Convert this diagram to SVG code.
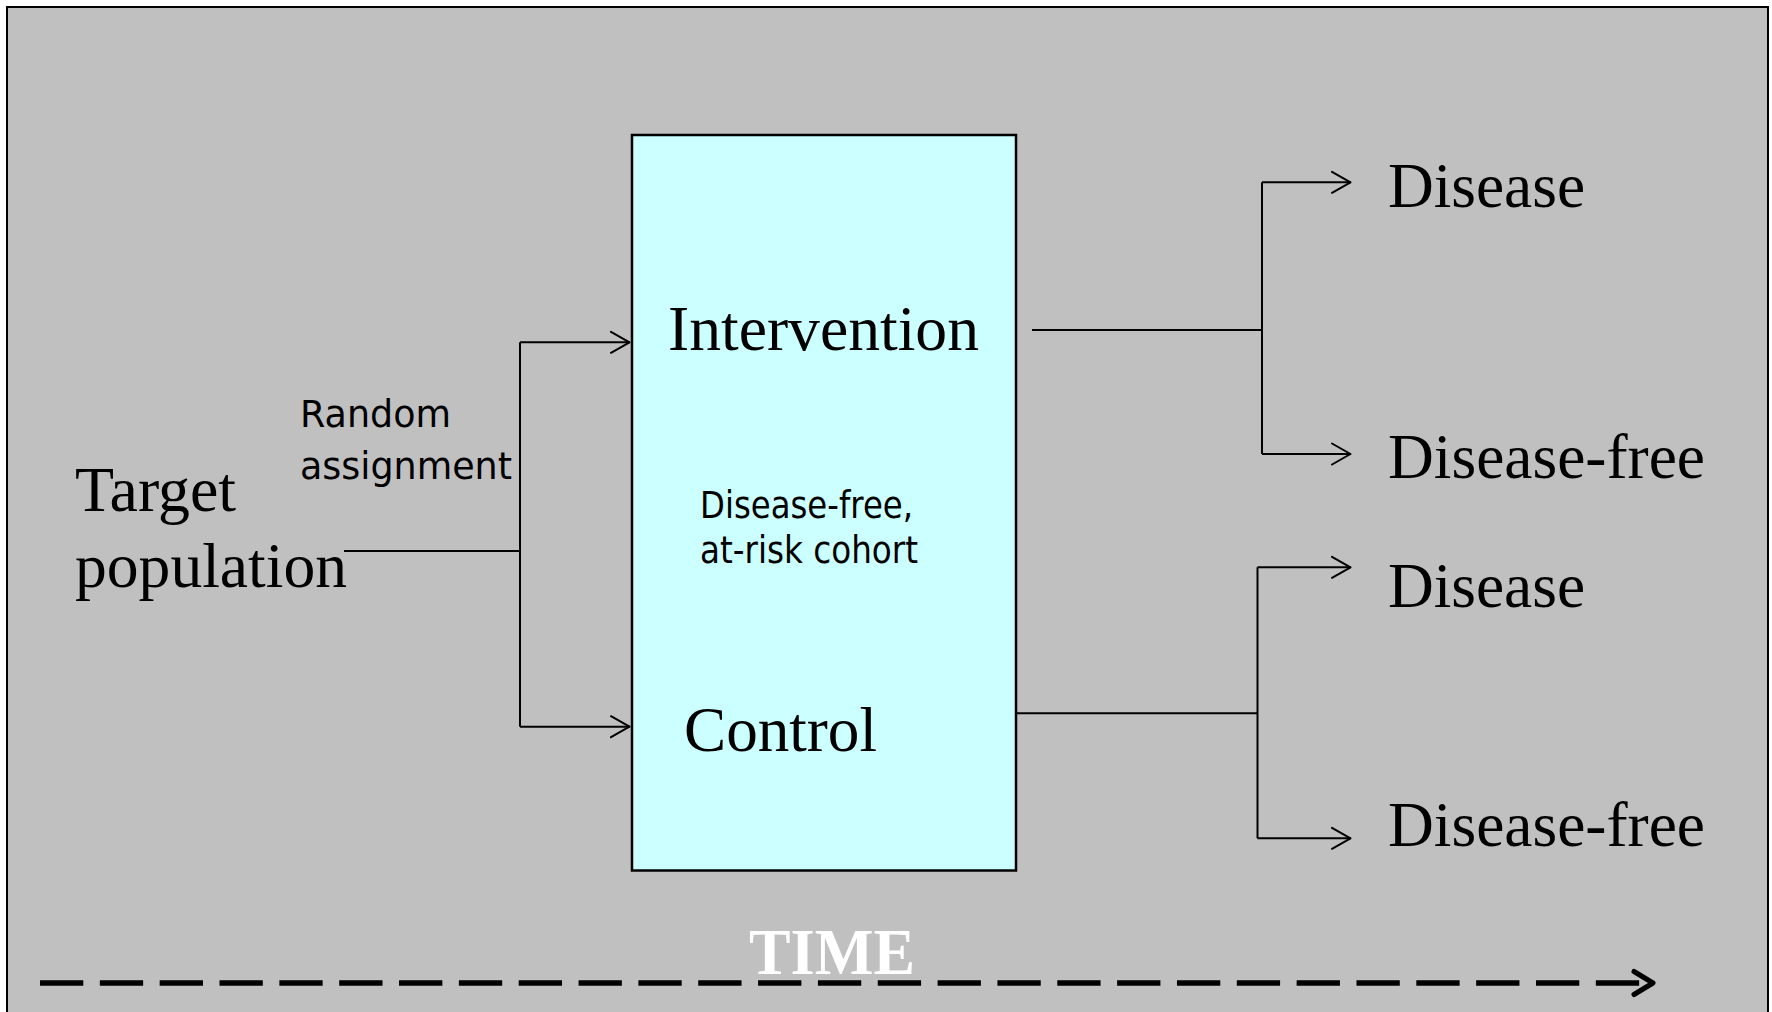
<svg xmlns="http://www.w3.org/2000/svg" width="1772" height="1012" viewBox="0 0 1772 1012">
<defs>
<style>
.serif{font-family:"Liberation Serif","Times New Roman",serif;font-size:64px;fill:#000}
.sans{font-family:"DejaVu Sans","Verdana",sans-serif;font-size:37px;fill:#000}
.conn{fill:none;stroke:#000;stroke-width:2}
.head{fill:none;stroke:#000;stroke-width:2;stroke-linecap:round;stroke-linejoin:round}
</style>
<marker id="arr" viewBox="0 0 22 24" refX="21" refY="12" markerWidth="22" markerHeight="24" markerUnits="userSpaceOnUse" orient="auto">
<path d="M2,1.5 L20.5,12 L2,22.5" class="head"/>
</marker>
</defs>
<rect x="0" y="0" width="1772" height="1012" fill="#ffffff"/>
<rect id="frame" x="7" y="7" width="1761" height="1020" fill="#c0c0c0" stroke="#000" stroke-width="2"/>

<g id="cohort-box">
<rect x="632" y="135" width="384" height="735.5" fill="#ccffff" stroke="#000" stroke-width="2.5"/>
</g>
<g id="intervention">
<text class="serif" x="668" y="350" textLength="311" lengthAdjust="spacingAndGlyphs">Intervention</text>
</g>
<g id="control">
<text class="serif" x="684" y="751" textLength="193" lengthAdjust="spacingAndGlyphs">Control</text>
</g>
<g id="cohort-label">
<text class="sans" x="700" y="517.7" textLength="213" lengthAdjust="spacingAndGlyphs">Disease-free,</text>
<text class="sans" x="700" y="562.7" textLength="218" lengthAdjust="spacingAndGlyphs">at-risk cohort</text>
</g>
<g id="target-population">
<text class="serif" x="75" y="511" textLength="161" lengthAdjust="spacingAndGlyphs">Target</text>
<text class="serif" x="75" y="586.7" textLength="272" lengthAdjust="spacingAndGlyphs">population</text>
</g>
<g id="random-assignment">
<text class="sans" x="300" y="427" textLength="151" lengthAdjust="spacingAndGlyphs">Random</text>
<text class="sans" x="300" y="479" textLength="212" lengthAdjust="spacingAndGlyphs">assignment</text>
</g>
<g id="int-disease">
<text class="serif" x="1388" y="206.7" textLength="197" lengthAdjust="spacingAndGlyphs">Disease</text>
</g>
<g id="int-disease-free">
<text class="serif" x="1388" y="478.3" textLength="317" lengthAdjust="spacingAndGlyphs">Disease-free</text>
</g>
<g id="ctl-disease">
<text class="serif" x="1388" y="606.7" textLength="197" lengthAdjust="spacingAndGlyphs">Disease</text>
</g>
<g id="ctl-disease-free">
<text class="serif" x="1388" y="846" textLength="317" lengthAdjust="spacingAndGlyphs">Disease-free</text>
</g>
<g id="time">
<text x="749" y="974" font-family="'Liberation Serif','Times New Roman',serif" font-size="66" font-weight="bold" fill="#ffffff" textLength="166" lengthAdjust="spacingAndGlyphs">TIME</text>
</g>

<g id="connectors">
<path class="conn" d="M344,551 H520"/>
<path class="conn" d="M520,342.3 V726.7"/>
<path class="conn" d="M520,342.3 H630" marker-end="url(#arr)"/>
<path class="conn" d="M520,726.7 H630" marker-end="url(#arr)"/>
<path class="conn" d="M1032,330 H1262"/>
<path class="conn" d="M1262,182.3 V454"/>
<path class="conn" d="M1262,182.3 H1351" marker-end="url(#arr)"/>
<path class="conn" d="M1262,454 H1351" marker-end="url(#arr)"/>
<path class="conn" d="M1016,713.3 H1257.5"/>
<path class="conn" d="M1257.5,567.3 V838.3"/>
<path class="conn" d="M1257.5,567.3 H1351" marker-end="url(#arr)"/>
<path class="conn" d="M1257.5,838.3 H1351" marker-end="url(#arr)"/>
<path d="M40,983 H1650" fill="none" stroke="#000" stroke-width="5.5" stroke-dasharray="43.3 16.54"/>
<path d="M1634,971.5 L1653,983 L1634,994.5" fill="none" stroke="#000" stroke-width="5" stroke-linecap="round" stroke-linejoin="round"/>
</g>
</svg>
